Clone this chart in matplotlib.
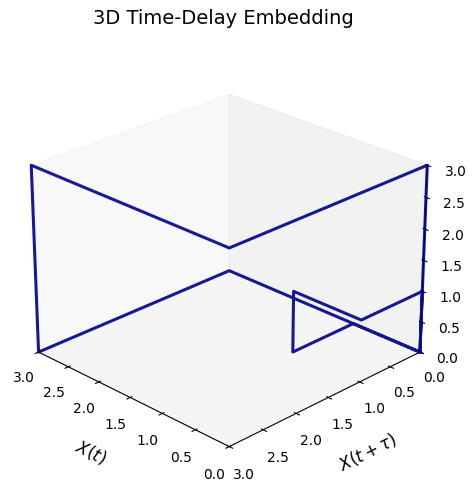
"""3D time-delay embedding of a short pulse signal."""
import matplotlib
matplotlib.use('Agg')
import matplotlib.pyplot as plt
import numpy as np
from mpl_toolkits.mplot3d import Axes3D

signal = np.array([0, 0, 0, 3, 3, 3, 0, 0, 0, 1, 1, 1, 0, 0, 0], dtype=float)
tau = 1
axis_ticks = [0.0, 0.5, 1.0, 1.5, 2.0, 2.5, 3.0]

x = signal[:-2 * tau]
y = signal[tau:-tau]
z = signal[2 * tau:]

fig = plt.figure(figsize=(4.76, 4.92), dpi=100)
ax = fig.add_axes([0.021, 0.025, 0.897, 0.868], projection='3d')
ax.plot(x, y, z, color='darkblue', alpha=0.9, linewidth=2.2)
ax.set_xlim(0, 3)
ax.set_ylim(0, 3)
ax.set_zlim(0, 3)
ax.set_xticks(axis_ticks)
ax.set_yticks(axis_ticks)
ax.set_zticks(axis_ticks)
ax.grid(False)
ax.view_init(elev=25, azim=135)
ax.set_xlabel('$X(t)$', fontsize=12, labelpad=10)
ax.set_ylabel(r'$X(t+\tau)$', fontsize=12, labelpad=10)
fig.text(0.469, 0.963, '3D Time-Delay Embedding', ha='center', va='center', fontsize=14)
fig.savefig('out.png', dpi=100)
